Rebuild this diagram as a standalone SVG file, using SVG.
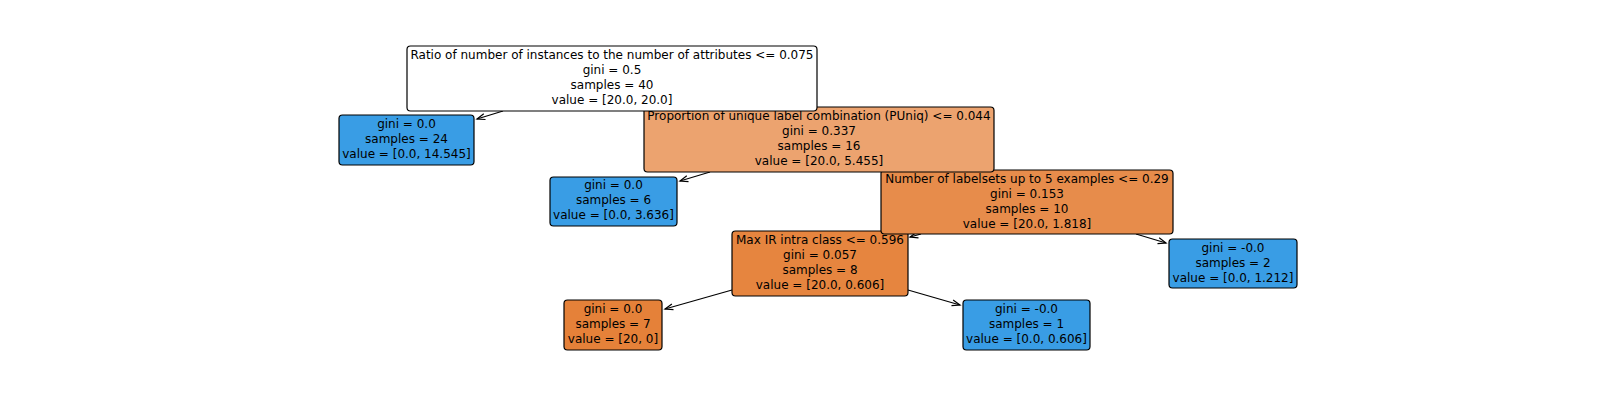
<svg xmlns="http://www.w3.org/2000/svg" width="1600" height="400" viewBox="0 0 1600 400">
<defs>
<marker id="ah" viewBox="-10 -5 12 10" refX="0" refY="0" markerWidth="12" markerHeight="10" markerUnits="userSpaceOnUse" orient="auto">
<path d="M-8,-3 L0,0 L-8,3" fill="none" stroke="#000" stroke-width="1.2"/>
</marker>
<style>
.box{stroke:#000;stroke-width:1.2}
.w{fill:#ffffff}.b{fill:#399de5}.o{fill:#e58139}.o1{fill:#eca36f}.o2{fill:#e78c4b}.o3{fill:#e6853f}
text{font-family:"DejaVu Sans","Liberation Sans",sans-serif;font-size:12px;fill:#000;text-anchor:middle}
.edge{stroke:#000;stroke-width:1.2;fill:none;marker-end:url(#ah)}
</style>
</defs>
<rect width="1600" height="400" fill="#fff"/>
<g id="connectors">
<line class="edge" x1="503" y1="111" x2="477" y2="119"/>
<line class="edge" x1="710" y1="172" x2="680" y2="181"/>
<line class="edge" x1="921" y1="234" x2="910" y2="237"/>
<line class="edge" x1="1136" y1="234" x2="1166" y2="243"/>
<line class="edge" x1="732" y1="290" x2="665" y2="309"/>
<line class="edge" x1="908" y1="290" x2="960" y2="305"/>
</g>
<g id="node-leaf-7">
<rect class="box o" x="564" y="300" width="98" height="50" rx="3.5"/>
<text x="613" y="313">gini = 0.0</text>
<text x="613" y="328">samples = 7</text>
<text x="613" y="343">value = [20, 0]</text>
</g>
<g id="node-leaf-1">
<rect class="box b" x="963" y="300" width="127" height="50" rx="3.5"/>
<text x="1026.5" y="313">gini = -0.0</text>
<text x="1026.5" y="328">samples = 1</text>
<text x="1026.5" y="343">value = [0.0, 0.606]</text>
</g>
<g id="node-maxir">
<rect class="box o3" x="732" y="231" width="176" height="65" rx="3.5"/>
<text x="820" y="244">Max IR intra class &lt;= 0.596</text>
<text x="820" y="259">gini = 0.057</text>
<text x="820" y="274">samples = 8</text>
<text x="820" y="289">value = [20.0, 0.606]</text>
</g>
<g id="node-leaf-2">
<rect class="box b" x="1169" y="239" width="128" height="49" rx="3.5"/>
<text x="1233" y="251.5">gini = -0.0</text>
<text x="1233" y="266.5">samples = 2</text>
<text x="1233" y="281.5">value = [0.0, 1.212]</text>
</g>
<g id="node-labelsets">
<rect class="box o2" x="881" y="170" width="292" height="64" rx="3.5"/>
<text x="1027" y="182.5">Number of labelsets up to 5 examples &lt;= 0.29</text>
<text x="1027" y="197.5">gini = 0.153</text>
<text x="1027" y="212.5">samples = 10</text>
<text x="1027" y="227.5">value = [20.0, 1.818]</text>
</g>
<g id="node-leaf-6">
<rect class="box b" x="550" y="177" width="127" height="49" rx="3.5"/>
<text x="613.5" y="189">gini = 0.0</text>
<text x="613.5" y="204">samples = 6</text>
<text x="613.5" y="219">value = [0.0, 3.636]</text>
</g>
<g id="node-puniq">
<rect class="box o1" x="644" y="107" width="350" height="65" rx="3.5"/>
<text x="819" y="120">Proportion of unique label combination (PUniq) &lt;= 0.044</text>
<text x="819" y="135">gini = 0.337</text>
<text x="819" y="150">samples = 16</text>
<text x="819" y="165">value = [20.0, 5.455]</text>
</g>
<g id="node-leaf-24">
<rect class="box b" x="339" y="115" width="135" height="50" rx="3.5"/>
<text x="406.5" y="128">gini = 0.0</text>
<text x="406.5" y="143">samples = 24</text>
<text x="406.5" y="158">value = [0.0, 14.545]</text>
</g>
<g id="node-root">
<rect class="box w" x="407" y="46" width="410" height="65" rx="3.5"/>
<text x="612" y="59">Ratio of number of instances to the number of attributes &lt;= 0.075</text>
<text x="612" y="74">gini = 0.5</text>
<text x="612" y="89">samples = 40</text>
<text x="612" y="104">value = [20.0, 20.0]</text>
</g>
</svg>
